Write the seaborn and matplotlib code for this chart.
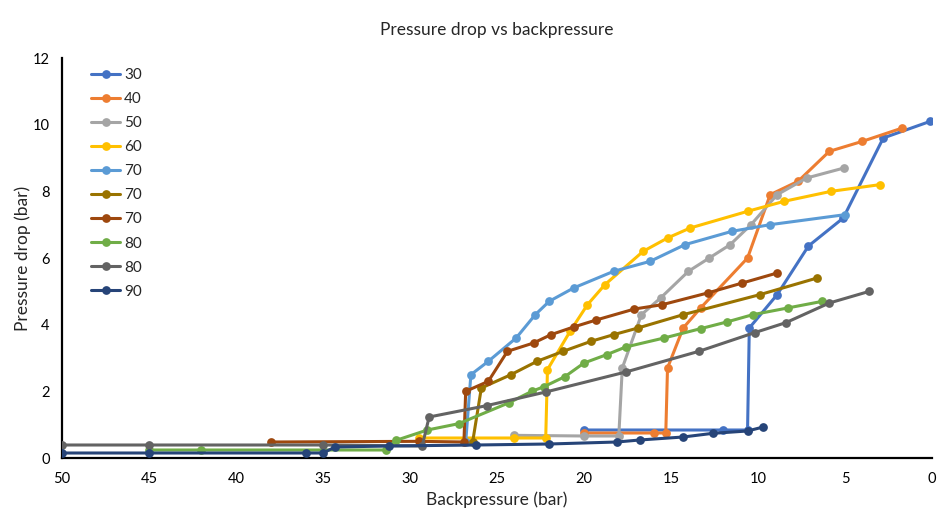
import matplotlib
matplotlib.use("Agg")
import matplotlib.pyplot as plt
import seaborn as sns
import pandas as pd

# ---- data ----
labels = ["30", "40", "50", "60", "70", "70", "70", "80", "80", "90"]
colors = ["#4472C4", "#ED7D31", "#A5A5A5", "#FFC000", "#5B9BD5",
          "#997300", "#9E480E", "#70AD47", "#636363", "#264478"]

x30 = [0.1, 2.8, 5.1, 7.1, 8.9, 10.5, 10.6, 12.0, 20.0]
y30 = [10.1, 9.6, 7.2, 6.36, 4.9, 3.9, 0.84, 0.84, 0.84]

x40 = [1.7, 4.0, 5.9, 7.7, 9.3, 10.6, 13.3, 14.3, 15.2, 15.3, 16.0, 20.0]
y40 = [9.9, 9.5, 9.2, 8.3, 7.9, 6.0, 4.5, 3.9, 2.7, 0.75, 0.75, 0.75]

x50 = [5.06, 7.2, 8.9, 10.4, 11.6, 12.8, 14.0, 15.6, 16.7, 17.8, 18.0, 20.0, 24.0]
y50 = [8.7, 8.4, 7.9, 7.0, 6.4, 6.0, 5.6, 4.8, 4.3, 2.7, 0.66, 0.66, 0.68]

x60 = [3.0, 5.8, 8.5, 10.6, 13.9, 15.2, 16.6, 18.8, 19.8, 20.8, 22.1, 22.2, 24.0, 29.5]
y60 = [8.2, 8.0, 7.7, 7.4, 6.9, 6.6, 6.2, 5.2, 4.6, 3.8, 2.65, 0.6, 0.6, 0.6]

x70a = [5.0, 9.3, 11.5, 14.2, 16.2, 18.3, 20.6, 22.0, 22.8, 23.9, 25.5, 26.5, 26.8]
y70a = [7.3, 7.0, 6.8, 6.4, 5.9, 5.6, 5.1, 4.7, 4.3, 3.6, 2.9, 2.5, 0.47]

x70b = [6.6, 9.9, 14.3, 16.9, 18.3, 19.6, 21.2, 22.7, 24.2, 25.9, 26.4]
y70b = [5.4, 4.9, 4.3, 3.9, 3.7, 3.5, 3.2, 2.9, 2.5, 2.1, 0.48]

x70c = [8.9, 10.9, 12.9, 15.5, 17.1, 19.3, 20.6, 21.9, 22.9, 24.4, 25.5, 26.8, 26.9, 29.5, 38.0]
y70c = [5.55, 5.25, 4.95, 4.6, 4.47, 4.14, 3.93, 3.7, 3.45, 3.2, 2.3, 2.0, 0.48, 0.5, 0.48]

x80a = [6.3, 8.3, 10.3, 11.8, 13.3, 15.4, 17.6, 18.7, 20.0, 21.1, 22.3, 23.0, 24.3, 27.2, 29.0, 30.8, 31.4, 42.0, 45.0]
y80a = [4.7, 4.5, 4.3, 4.08, 3.88, 3.6, 3.33, 3.1, 2.85, 2.44, 2.14, 2.0, 1.66, 1.03, 0.84, 0.53, 0.24, 0.24, 0.24]

x80b = [3.6, 5.9, 8.4, 10.2, 13.4, 17.6, 22.2, 25.6, 28.9, 29.3, 35.0, 45.0, 50.0]
y80b = [5.0, 4.65, 4.06, 3.76, 3.2, 2.58, 1.98, 1.57, 1.23, 0.36, 0.39, 0.39, 0.39]

x90 = [9.7, 10.6, 12.6, 14.3, 16.8, 18.1, 22.0, 26.2, 31.2, 34.3, 35.0, 36.0, 45.0, 50.0]
y90 = [0.93, 0.81, 0.74, 0.63, 0.54, 0.48, 0.42, 0.39, 0.36, 0.33, 0.15, 0.15, 0.15, 0.15]

xs = [x30, x40, x50, x60, x70a, x70b, x70c, x80a, x80b, x90]
ys = [y30, y40, y50, y60, y70a, y70b, y70c, y80a, y80b, y90]

# ---- plot ----
sns.set_style("white")
plt.rcParams["font.family"] = ["Lato", "DejaVu Sans"]

fig = plt.figure(figsize=(9.51, 5.08), dpi=100)
ax = fig.add_axes([62 / 951, 1 - 458 / 508, (932 - 62) / 951, 400 / 508])

for i, (lab, col, x, y) in enumerate(zip(labels, colors, xs, ys)):
    df = pd.DataFrame({"x": x, "y": y})
    sns.lineplot(data=df, x="x", y="y", sort=False, estimator=None, ax=ax,
                 color=col, linewidth=2.2, marker="o", markersize=6.3,
                 markeredgewidth=0, label=lab, zorder=2 + i)

ax.set_xlim(50, 0)
ax.set_ylim(0, 12)
ax.set_xticks(range(50, -1, -5))
ax.set_yticks(range(0, 13, 2))
ax.tick_params(axis="both", direction="out", length=4, width=1.3,
               labelsize=10.5, colors="black")
ax.tick_params(axis="x", pad=6)
ax.tick_params(axis="y", pad=5)
for s in ["top", "right"]:
    ax.spines[s].set_visible(False)
for s in ["left", "bottom"]:
    ax.spines[s].set_color("black")
    ax.spines[s].set_linewidth(1.6)

ax.set_xlabel("Backpressure (bar)", fontsize=12.5, labelpad=4)
ax.set_ylabel("Pressure drop (bar)", fontsize=12.5, labelpad=1)
fig.text(497 / 951, 1 - 30 / 508, "Pressure drop vs backpressure",
         ha="center", va="center", fontsize=12.5)

leg = ax.legend(loc="upper left", bbox_to_anchor=(0.022, 1.0), frameon=False,
                fontsize=11, handlelength=1.9, labelspacing=0.66,
                handletextpad=0.25, borderaxespad=0.25)

fig.savefig("out.png", dpi=100)
